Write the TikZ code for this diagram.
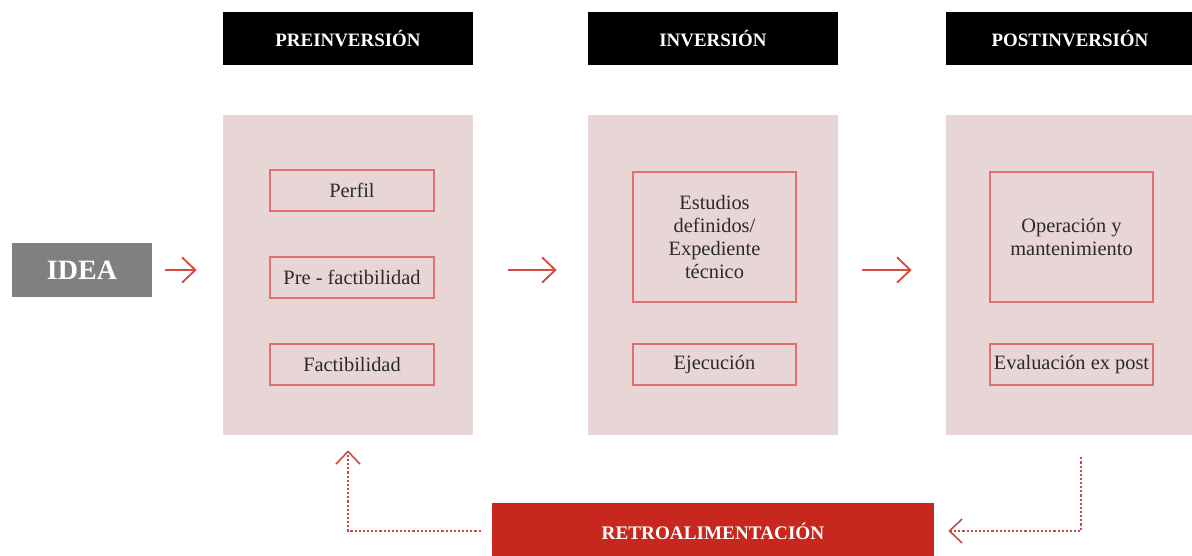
\documentclass[tikz,border=0pt]{standalone}
\usepackage{fontspec}
\setmainfont{Liberation Serif}
\usetikzlibrary{arrows.meta,calc}
\definecolor{panelpink}{HTML}{E8D6D6}
\definecolor{boxred}{HTML}{E07070}
\definecolor{arrred}{HTML}{D84A44}
\definecolor{dotred}{HTML}{C94A48}
\definecolor{retrored}{HTML}{C8271D}
\definecolor{ideagray}{HTML}{808080}
\definecolor{bodytext}{HTML}{2A2A2A}
\def\px{0.75pt}
\tikzset{
  header/.style={fill=black, text=white, inner sep=0pt, minimum height=53*\px,
    font=\fontsize{14.2}{16}\selectfont\bfseries},
  panel/.style={fill=panelpink, inner sep=0pt, minimum height=320*\px},
  stagebox/.style={draw=boxred, line width=1.2pt, fill=panelpink, inner sep=0pt,
    text=bodytext, align=center, font=\fontsize{15.3}{17.4}\selectfont},
  ideabox/.style={fill=ideagray, text=white, inner sep=0pt, minimum width=140*\px,
    minimum height=54*\px, font=\fontsize{21}{23}\selectfont\bfseries},
  retrobox/.style={fill=retrored, text=white, inner sep=0pt, minimum width=442*\px,
    minimum height=56*\px, font=\fontsize{14.4}{16}\selectfont\bfseries},
  flowarrow/.style={draw=arrred, line width=1.4pt,
    -{Straight Barb[length=10pt,width=19pt]}},
  fbarrow/.style={draw=dotred, line width=1.6pt, dash pattern=on 1.6pt off 1.5pt,
    -{Straight Barb[length=9.5pt,width=18pt,line width=1.2pt]}}
}
\begin{document}
\begin{tikzpicture}[x=0.75pt,y=-0.75pt]
\useasboundingbox (0,0) rectangle (1192,556);
\fill[white] (0,0) rectangle (1192,556);
% headers
\node[header, minimum width=250*\px] (h1) at (348,38.5) {PREINVERSIÓN};
\node[header, minimum width=250*\px] (h2) at (713,38.5) {INVERSIÓN};
\node[header, minimum width=248*\px] (h3) at (1070,38.5) {POSTINVERSIÓN};
% panels
\node[panel, minimum width=250*\px] (p1) at (348,275) {};
\node[panel, minimum width=250*\px] (p2) at (713,275) {};
\node[panel, minimum width=248*\px] (p3) at (1070,275) {};
% idea
\node[ideabox] (idea) at (82,270) {IDEA};
% stage boxes
\node[stagebox, minimum width=164*\px, minimum height=41*\px] (perfil) at (352,190.5) {Perfil};
\node[stagebox, minimum width=164*\px, minimum height=41*\px] (pref) at (352,277.5) {Pre - factibilidad};
\node[stagebox, minimum width=164*\px, minimum height=41*\px] (fact) at (352,364.5) {Factibilidad};
\node[stagebox, minimum width=163*\px, minimum height=130*\px] (estud) at (714.5,237) {Estudios\\definidos/\\Expediente\\técnico};
\node[stagebox, minimum width=163*\px, minimum height=41*\px] (ejec) at (714.5,364.5) {Ejecución};
\node[stagebox, minimum width=163*\px, minimum height=130*\px] (oper) at (1071.5,237) {Operación y\\mantenimiento};
\node[stagebox, minimum width=163*\px, minimum height=41*\px] (eval) at (1071.5,364.5) {Evaluación ex post};
% retro
\node[retrobox] (retro) at (713,531) {RETROALIMENTACIÓN};
% flow arrows
\draw[flowarrow, shorten <=13*\px, shorten >=26*\px] (idea.east) -- (idea.east -| p1.west);
\draw[flowarrow, shorten <=35*\px, shorten >=31*\px] (p1.east |- idea.east) -- (p2.west |- idea.east);
\draw[flowarrow, shorten <=24*\px, shorten >=34*\px] (p2.east |- idea.east) -- (p3.west |- idea.east);
% feedback arrows
\coordinate (r1) at ($(p3.south)+(11,22)$);
\draw[fbarrow, shorten >=14*\px] (r1) |- (retro.east);
\draw[fbarrow, shorten <=11*\px, shorten >=15*\px] (retro.west) -| (p1.south);
\end{tikzpicture}
\end{document}
